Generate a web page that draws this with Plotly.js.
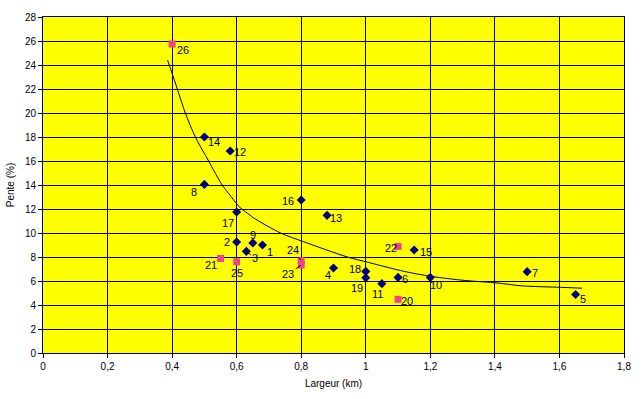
<!DOCTYPE html>
<html>
<head>
<meta charset="utf-8">
<script src="https://cdn.plot.ly/plotly-3.0.1.min.js"></script>
<style>
html,body{margin:0;padding:0;background:#fff;}
#chart{width:642px;height:399px;}
</style>
</head>
<body>
<div id="chart"></div>
<script>
// Series 1 (navy diamonds)
const idsA = ['1','2','3','4','5','6','7','8','9','10','11','12','13','14','15','16','17','18','19'];
const largeurA = [0.68,0.60,0.63,0.90,1.65,1.10,1.50,0.50,0.65,1.20,1.05,0.58,0.88,0.50,1.15,0.80,0.60,1.00,1.00];
const penteA = [9.0,9.25,8.47,7.08,4.88,6.3,6.78,14.05,9.17,6.3,5.78,16.83,11.47,18.0,8.58,12.75,11.75,6.8,6.27];

// Series 2 (pink squares)
const idsB = ['20','21','22','23','24','25','26'];
const largeurB = [1.10,0.55,1.10,0.80,0.80,0.60,0.40];
const penteB = [4.47,7.88,8.88,7.33,7.7,7.6,25.75];

// Trend curve
const trendX = [0.386,0.41,0.441,0.472,0.513,0.555,0.575,0.611,0.641,0.653,0.736,0.805,0.943,1.008,1.119,1.204,1.305,1.409,1.481,1.606,1.67];
const trendY = [24.4,22.5,20.0,18.0,16.0,14.0,13.3,12.1,11.5,11.25,10.0,9.3,8.0,7.55,6.8,6.38,6.05,5.83,5.6,5.47,5.4];

// Tick values
const xTicks = [0,0.2,0.4,0.6,0.8,1,1.2,1.4,1.6,1.8];
const yTicks = [0,2,4,6,8,10,12,14,16,18,20,22,24,26,28];

// Label offsets in pixels [dx, dy(down)], and leader flag
const labelOffsets = {
 '1':[8,7],'2':[-10,0],'3':[9,7,1],'4':[-6,7],'5':[7,5],'6':[7,2],'7':[8,1],'8':[-10,8],
 '9':[0,-8],'10':[6,8],'11':[-4,10],'12':[10,1],'13':[9,3],'14':[10,5],'15':[12,2],
 '16':[-13,1],'17':[-9,11],'18':[-11,-2],'19':[-9,10],'20':[9,2],'21':[-10,7],
 '22':[-7,2],'23':[-13,9,1],'24':[-8,-11,1],'25':[0,11],'26':[11,6]
};

const FONT = 'Liberation Sans Narrow, Liberation Sans, Arial, sans-serif';

const traces = [
 {x: trendX, y: trendY, mode:'lines', line:{color:'#000', width:1, shape:'spline', smoothing:0.8}, hoverinfo:'skip'},
 {x: largeurA, y: penteA, mode:'markers', marker:{symbol:'diamond', color:'#000080', size:7}},
 {x: largeurB, y: penteB, mode:'markers', marker:{symbol:'square', color:'#EE4490', size:7}}
];

const annotations = [];
function addLabels(ids, xs, ys){
 ids.forEach((id,i)=>{
  const o = labelOffsets[id];
  if (o[2]) {
   annotations.push({x:xs[i], y:ys[i], xref:'x', yref:'y', text:id, showarrow:true,
    arrowhead:0, arrowwidth:1, arrowcolor:'#000', ax:o[0], ay:o[1], standoff:1,
    font:{family:FONT, size:11, color:'#000'}});
  } else {
   annotations.push({x:xs[i], y:ys[i], xref:'x', yref:'y', text:id, showarrow:false,
    xshift:o[0], yshift:-o[1], font:{family:FONT, size:11, color:'#000'}});
  }
 });
}
addLabels(idsA, largeurA, penteA);
addLabels(idsB, largeurB, penteB);

const layout = {
 width:642, height:399,
 margin:{l:43, r:18, t:17, b:46},
 paper_bgcolor:'#fff', plot_bgcolor:'#FFFF00',
 showlegend:false,
 separators:', ',
 font:{family:FONT, size:10, color:'#000'},
 xaxis:{range:[0,1.8], tickvals:xTicks, showgrid:true, gridcolor:'#000', gridwidth:1,
   showline:true, linecolor:'#000', linewidth:1, mirror:true, zeroline:false,
   ticks:'outside', ticklen:4, tickcolor:'#000', tickfont:{family:FONT, size:10},
   title:{text:'Largeur (km)', font:{family:FONT, size:10}, standoff:8}},
 yaxis:{range:[0,28], tickvals:yTicks, showgrid:true, gridcolor:'#000', gridwidth:1,
   showline:true, linecolor:'#000', linewidth:1, mirror:true, zeroline:false,
   ticks:'outside', ticklen:4, tickcolor:'#000', tickfont:{family:FONT, size:10},
   title:{text:'Pente (%)', font:{family:FONT, size:10}, standoff:8}},
 annotations: annotations
};

Plotly.newPlot('chart', traces, layout, {staticPlot:true, displayModeBar:false});
</script>
</body>
</html>
